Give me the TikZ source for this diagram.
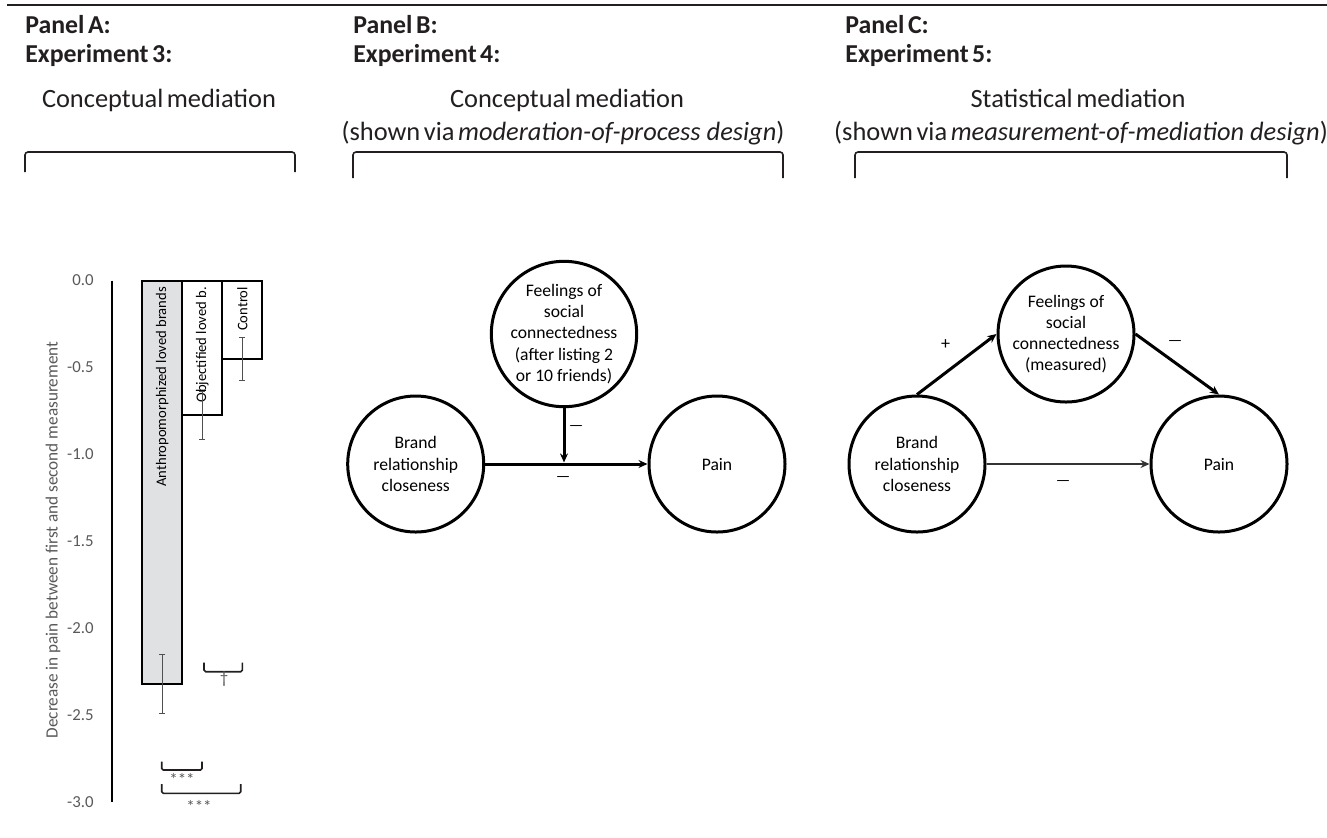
\documentclass[tikz,border=0pt]{standalone}
\usepackage{fontspec}
\setmainfont{Carlito}
\newfontfamily\headfont[WordSpace=0.6]{Carlito}
\usepackage{xcolor}
\usepackage{tikz}
\usetikzlibrary{arrows.meta,positioning}
\definecolor{hdrBlack}{RGB}{35,31,32}
\definecolor{barGray}{RGB}{224,225,227}
\definecolor{tickGray}{RGB}{89,89,89}
\definecolor{errGray}{RGB}{80,80,80}

\begin{document}
\begin{tikzpicture}[x=0.5pt,y=-0.5pt,
    panelhead/.style={anchor=base west, inner sep=0pt, text=hdrBlack, font=\headfont\fontsize{12.9}{14}\selectfont\bfseries},
    subhead/.style={anchor=base, inner sep=0pt, text=hdrBlack, font=\headfont\fontsize{13.2}{15}\selectfont},
    bracketline/.style={hdrBlack, line width=0.8pt, rounded corners=1.5pt},
    construct/.style={circle, draw, line width=1.5pt, minimum size=68pt, inner sep=0pt, align=center, font=\fontsize{8.8}{10.6}\selectfont},
    effect/.style={line width=1.5pt, -{Stealth[length=4.5pt,width=4pt,inset=1.5pt]}},
    weakeffect/.style={line width=0.6pt, draw=black!80, -{Stealth[length=4.5pt,width=4pt,inset=1.5pt]}},
    sign/.style={inner sep=0pt, font=\fontsize{8}{9}\selectfont},
    ticklab/.style={anchor=east, inner sep=0pt, text=tickGray, font=\fontsize{8.4}{9}\selectfont},
    axislab/.style={inner sep=0pt, text=tickGray, font=\fontsize{8.6}{9}\selectfont},
    barline/.style={line width=1pt, draw=black},
    barlab/.style={inner sep=0pt, font=\fontsize{7.3}{8}\selectfont},
    errbar/.style={line width=0.5pt, errGray},
    sigline/.style={line width=0.8pt, hdrBlack, rounded corners=0.8pt},
    siglab/.style={inner sep=0pt, text=tickGray, font=\fontsize{8.5}{9}\selectfont}]
    \useasboundingbox (0,0) rectangle (1327,837);

    % headers
    \draw[hdrBlack, line width=1pt] (7,5) -- (1327,5);
    \node[panelhead] (panelA) at (25,33) {Panel A:};
    \node[panelhead] (exptA) at (25,62) {Experiment 3:};
    \node[subhead] (designA) at (159,107) {Conceptual mediation};
    \draw[bracketline] (25,172) -- (25,152) -- (295,152) -- (295,172);

    \node[panelhead] (panelB) at (353,33) {Panel B:};
    \node[panelhead] (exptB) at (353,62) {Experiment 4:};
    \node[subhead] (designB) at (567,107) {Conceptual mediation};
    \node[subhead] (viaB) at (563,140) {(shown via {\rmfamily\itshape moderation-of-process design})};
    \draw[bracketline] (353,178) -- (353,152) -- (783,152) -- (783,178);

    \node[panelhead] (panelC) at (845,33) {Panel C:};
    \node[panelhead] (exptC) at (845,62) {Experiment 5:};
    \node[subhead] (designC) at (1078,107) {Statistical mediation};
    \node[subhead] (viaC) at (1081,140) {(shown via {\rmfamily\itshape measurement-of-mediation design})};
    \draw[bracketline] (855,178) -- (855,152) -- (1287,152) -- (1287,178);

    % panel A: bar chart
    \begin{scope}[shift={(0,280.5)}, yscale=-173.8]
        \draw[black, line width=1pt] (111.7,0) -- (111.7,-3);
        \foreach \v/\lab [count=\i] in {0/0.0,-0.5/-0.5,-1/-1.0,-1.5/-1.5,-2/-2.0,-2.5/-2.5,-3/-3.0}
            \node[ticklab] (tick\i) at (94,\v) {\lab};
        \node[axislab, rotate=90] (ylab) at (53,-1.493) {Decrease in pain between first and second measurement};

        \draw[barline, fill=barGray] (142.3,0) rectangle (182.3,-2.32);
        \draw[barline, fill=white] (182.3,0) rectangle (222.3,-0.775);
        \draw[barline, fill=white] (222.3,0) rectangle (262.3,-0.45);
        \node[barlab, rotate=90, anchor=east] (labAnthro) at (162.3,-0.035) {Anthropomorphized loved brands};
        \node[barlab, rotate=90, anchor=east] (labObject) at (202.3,-0.035) {Objectified loved b.};
        \node[barlab, rotate=90, anchor=east] (labControl) at (242.3,-0.035) {Control};

        \foreach \ex/\lo/\hi in {162.3/-2.151/-2.49, 202.3/-0.636/-0.913, 242.3/-0.329/-0.577}
            \draw[errbar] (\ex-3,\lo) -- (\ex+3,\lo) (\ex,\lo) -- (\ex,\hi) (\ex-3,\hi) -- (\ex+3,\hi);
    \end{scope}

    \draw[sigline] (204,662.7) -- (204,671.7) -- (242.3,671.7) -- (242.3,662.7);
    \node[siglab] (sigOC) at (224,679) {\textdagger};
    \draw[sigline] (161.7,761.7) -- (161.7,770) -- (202,770) -- (202,761.7);
    \node[siglab] (sigAO) at (182,779) {***};
    \draw[sigline] (161.7,784) -- (161.7,793.3) -- (240.7,793.3) -- (240.7,784);
    \node[siglab] (sigAC) at (199,806) {***};

    % panel B: moderation-of-process
    \node[construct] (brandB) at (415.7,464) {Brand\\relationship\\closeness};
    \node[construct] (feelB) at (564,334) {Feelings of\\social\\connectedness\\(after listing 2\\or 10 friends)};
    \node[construct] (painB) at (717,464) {Pain};
    \coordinate (jointB) at (feelB |- brandB);
    \draw[effect] (brandB) -- (painB);
    \draw[effect, shorten >=0.8pt] (feelB) -- (jointB);
    \node[sign] (signFB) at (576,428) {---};
    \node[sign] (signBP) at (563,479) {---};

    % panel C: measurement-of-mediation
    \node[construct] (brandC) at (917,464) {Brand\\relationship\\closeness};
    \node[construct] (feelC) at (1066,334) {Feelings of\\social\\connectedness\\(measured)};
    \node[construct] (painC) at (1219,464) {Pain};
    \draw[effect] (brandC.north) -- (feelC.west);
    \draw[effect] (feelC.east) -- (painC.north);
    \draw[weakeffect] (brandC) -- (painC);
    \node[sign, font=\fontsize{9}{10}\selectfont] (signBF) at (945.7,345) {+};
    \node[sign] (signFP) at (1175,343) {---};
    \node[sign] (signBPc) at (1063,483) {---};
\end{tikzpicture}
\end{document}
